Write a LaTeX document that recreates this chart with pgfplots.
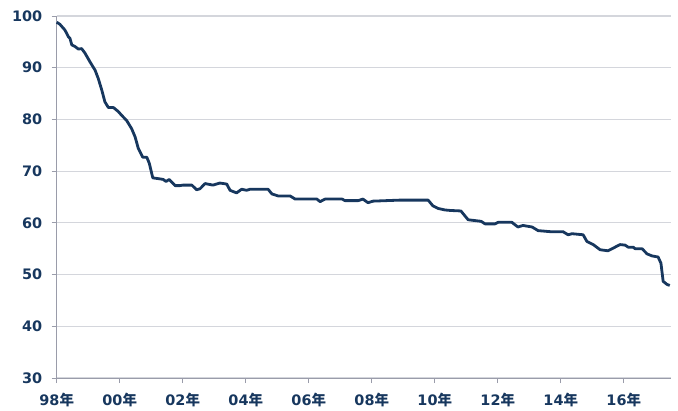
\documentclass[border=0pt]{standalone}
\usepackage{fontspec}
\setmainfont{DejaVu Sans}
\newfontfamily\cjk{Noto Sans CJK SC}
\usepackage{pgfplots}
\pgfplotsset{compat=1.18}
\definecolor{navy}{HTML}{17375E}
\definecolor{gridc}{HTML}{D4D6DC}
\definecolor{axc}{HTML}{9A9CAA}
\newcommand{\nian}{{\cjk\bfseries 年}}
\begin{document}
\begin{tikzpicture}[x=1bp,y=1bp]
\begin{axis}[at={(0,0)}, anchor=south west, scale only axis,
  width=614bp, height=362bp,
  xmin=1998, xmax=2017.49, ymin=30, ymax=100,
  ytick={30,40,...,100},
  xtick={1998,2000,...,2016},
  xticklabels={98\nian,00\nian,02\nian,04\nian,06\nian,08\nian,10\nian,12\nian,14\nian,16\nian},
  axis x line=bottom, axis y line=left,
  axis line style={axc, line width=1bp, -},
  ymajorgrids, grid style={gridc, line width=1.2bp},
  tick style={axc, line width=1bp}, tick align=outside, major tick length=5bp,
  ticklabel style={font=\fontsize{14.5}{16}\selectfont\bfseries, text=navy},
  /pgf/number format/assume math mode=true,
  yticklabel style={xshift=-6bp},
  xticklabel style={yshift=-7bp},
  clip=false]
\addplot[navy, line width=2.8bp, line join=round] coordinates {
(1998.00,98.8) (1998.10,98.4) (1998.26,97.3) (1998.37,96.0) (1998.42,95.7)
(1998.48,94.4) (1998.58,94.1) (1998.69,93.6) (1998.79,93.7) (1998.90,92.8)
(1999.06,91.1) (1999.22,89.5) (1999.32,87.9) (1999.43,85.7) (1999.53,83.4)
(1999.64,82.3) (1999.80,82.3) (1999.96,81.5) (2000.06,80.8) (2000.22,79.8)
(2000.38,78.2) (2000.49,76.6) (2000.59,74.4) (2000.73,72.7) (2000.86,72.7)
(2000.94,71.5) (2001.05,68.7) (2001.28,68.5) (2001.38,68.4) (2001.47,68.0)
(2001.57,68.4) (2001.76,67.2) (2001.91,67.2) (2002.01,67.3) (2002.29,67.3)
(2002.44,66.4) (2002.55,66.6) (2002.71,67.6) (2002.96,67.3) (2003.18,67.7)
(2003.40,67.5) (2003.50,66.3) (2003.71,65.8) (2003.87,66.5) (2004.03,66.3)
(2004.14,66.5) (2004.71,66.5) (2004.83,65.6) (2005.03,65.2) (2005.41,65.2)
(2005.57,64.6) (2006.26,64.6) (2006.36,64.1) (2006.52,64.6) (2007.06,64.6)
(2007.15,64.3) (2007.57,64.3) (2007.72,64.6) (2007.88,63.9) (2008.04,64.2)
(2008.90,64.4) (2009.79,64.4) (2009.94,63.3) (2010.10,62.8) (2010.32,62.5)
(2010.49,62.4) (2010.83,62.3) (2011.06,60.6) (2011.47,60.3) (2011.60,59.8)
(2011.91,59.8) (2012.01,60.1) (2012.45,60.1) (2012.64,59.2) (2012.80,59.5)
(2013.09,59.2) (2013.28,58.5) (2013.66,58.3) (2014.07,58.3) (2014.23,57.7)
(2014.36,57.9) (2014.71,57.7) (2014.83,56.4) (2015.03,55.8) (2015.25,54.8)
(2015.50,54.6) (2015.66,55.1) (2015.88,55.8) (2016.04,55.7) (2016.14,55.3)
(2016.30,55.3) (2016.36,55.0) (2016.58,55.0) (2016.74,54.0) (2016.90,53.6)
(2017.09,53.4) (2017.18,52.2) (2017.25,48.7) (2017.37,48.1) (2017.46,47.9)
};
\end{axis}
\pgfresetboundingbox
\path (-56.7,-32) rectangle (621.3,378);
\end{tikzpicture}
\end{document}
